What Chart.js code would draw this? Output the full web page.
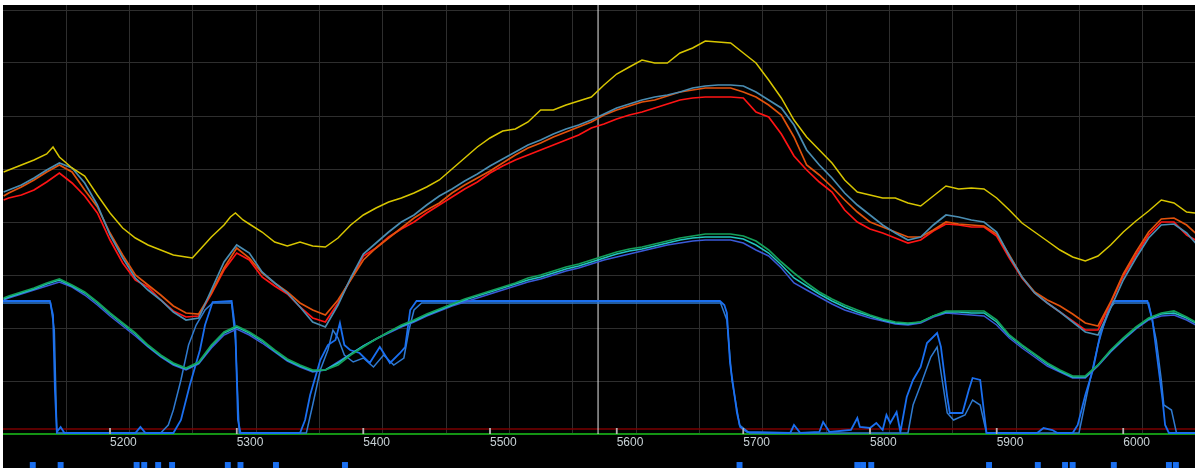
<!DOCTYPE html>
<html>
<head>
<meta charset="utf-8">
<script src="https://cdn.jsdelivr.net/npm/chart.js@4.4.1/dist/chart.umd.min.js"></script>
<style>
  html, body { margin: 0; padding: 0; background: #fff; }
  #wrap { position: absolute; left: 3px; top: 5px; width: 1192px; height: 463px; background: #000; }
</style>
</head>
<body>
<div id="wrap"><canvas id="grafico" width="1192" height="463"></canvas></div>
<script>
// eixo x (posição), ticks e linhas de grade
const xMin = 5115.5;
const xMax = 6056.6;
const tickVals = [5200, 5300, 5400, 5500, 5600, 5700, 5800, 5900, 6000];
const gradeX = [5165.3, 5215.3, 5265.3, 5315.3, 5365.3, 5415.3, 5465.3, 5515.3, 5565.3,
                5615.3, 5665.3, 5715.3, 5765.3, 5815.3, 5865.3, 5915.3, 5965.3, 6015.3];
const gradeY = [0, 53, 106, 159, 212, 265, 318, 371, 424];
const cursorX = 5585.3;

// amostras comuns das curvas vermelhas / verdes
const xs = [5116, 5120, 5130, 5140, 5150, 5160, 5170, 5180, 5190,
  5200, 5210, 5220, 5230, 5240, 5250, 5260, 5270, 5280, 5290,
  5300, 5310, 5320, 5330, 5340, 5350, 5360, 5370, 5380, 5390,
  5400, 5410, 5420, 5430, 5440, 5450, 5460, 5470, 5480, 5490,
  5500, 5510, 5520, 5530, 5540, 5550, 5560, 5570, 5580, 5590,
  5600, 5610, 5620, 5630, 5640, 5650, 5660, 5670, 5680, 5690,
  5700, 5710, 5720, 5730, 5740, 5750, 5760, 5770, 5780, 5790,
  5800, 5810, 5820, 5830, 5840, 5850, 5860, 5870, 5880, 5890,
  5900, 5910, 5920, 5930, 5940, 5950, 5960, 5970, 5980, 5990,
  6000, 6010, 6020, 6030, 6040, 6050, 6057];

const vermelho = [234, 236, 239, 244, 252, 261, 251, 238, 221,
  194, 171, 154, 147, 134, 123, 117, 118, 140, 164,
  181, 174, 157, 148, 140, 127, 116, 112, 131, 155,
  178, 186, 197, 205, 212, 221, 229, 237, 245, 252,
  261, 268, 274, 279, 284, 289, 294, 299, 306, 310,
  315, 319, 322, 326, 330, 334, 336, 337, 337, 337,
  336, 322, 317, 300, 278, 264, 252, 242, 224, 212,
  205, 201, 196, 191, 194, 203, 210, 209, 207, 207,
  198, 176, 156, 141, 131, 122, 113, 104, 104, 131,
  158, 179, 199, 212, 212, 199, 194];

const laranja = [238, 241, 247, 254, 262, 269, 262, 244, 227,
  201, 179, 159, 149, 139, 128, 121, 120, 141, 166,
  186, 176, 161, 151, 142, 131, 124, 119, 134, 154,
  174, 186, 196, 206, 216, 224, 231, 241, 249, 256,
  263, 271, 279, 286, 291, 297, 302, 307, 312, 319,
  324, 328, 332, 334, 338, 342, 344, 346, 346, 346,
  342, 337, 329, 319, 297, 269, 259, 247, 234, 222,
  212, 207, 202, 197, 197, 204, 212, 210, 209, 208,
  200, 179, 157, 142, 134, 128, 120, 111, 108, 132,
  160, 182, 202, 215, 216, 209, 201];

const acoAzul = [242, 244, 249, 256, 264, 271, 266, 251, 229,
  199, 176, 156, 144, 134, 122, 114, 116, 144, 172,
  189, 181, 162, 151, 141, 127, 112, 107, 129, 156,
  180, 191, 202, 212, 219, 229, 238, 245, 253, 260,
  268, 275, 282, 289, 294, 300, 305, 309, 314, 320,
  326, 330, 334, 337, 339, 342, 346, 348, 349, 349,
  348, 342, 334, 326, 309, 284, 269, 256, 241, 229,
  219, 209, 201, 194, 197, 209, 219, 217, 214, 212,
  202, 178, 157, 141, 131, 122, 112, 102, 99, 126,
  154, 176, 196, 209, 210, 201, 191];

const verde = [136, 138, 142, 146, 151, 155, 149, 142, 132,
  121, 111, 101, 89, 79, 71, 66, 72, 89, 102,
  108, 102, 94, 84, 75, 69, 64, 64, 69, 79,
  87, 95, 102, 109, 114, 120, 125, 130, 135, 139,
  143, 147, 151, 156, 159, 163, 167, 170, 174, 178,
  182, 185, 187, 190, 193, 196, 198, 200, 200, 200,
  198, 193, 184, 172, 161, 151, 142, 135, 129, 124,
  119, 115, 112, 111, 112, 118, 123, 123, 123, 123,
  114, 99, 89, 80, 71, 64, 58, 58, 69, 84,
  96, 107, 116, 121, 123, 117, 112];

const ciano = [135, 137, 141, 145, 150, 154, 148, 141, 131,
  120, 110, 100, 88, 78, 70, 65, 71, 88, 101,
  107, 101, 93, 83, 74, 68, 63, 64, 71, 80,
  88, 95, 102, 108, 113, 119, 124, 129, 134, 138,
  142, 146, 150, 154, 157, 161, 165, 168, 172, 176,
  180, 183, 185, 188, 191, 194, 196, 197, 197, 197,
  195, 189, 181, 169, 156, 148, 140, 133, 127, 122,
  118, 114, 111, 110, 112, 118, 122, 122, 121, 121,
  112, 98, 88, 79, 70, 63, 57, 57, 69, 83,
  95, 106, 115, 120, 121, 116, 111];

const azulBaixo = [134, 136, 140, 144, 148, 152, 147, 139, 129,
  118, 108, 98, 87, 77, 69, 64, 70, 86, 99,
  105, 99, 91, 82, 73, 67, 62, 64, 72, 80,
  88, 95, 101, 107, 112, 118, 123, 128, 132, 136,
  140, 144, 148, 152, 155, 159, 163, 166, 170, 174,
  177, 180, 183, 186, 189, 191, 193, 194, 194, 194,
  191, 184, 178, 166, 151, 144, 137, 130, 124, 120,
  116, 113, 110, 109, 111, 117, 121, 120, 119, 118,
  109, 96, 86, 77, 68, 62, 56, 56, 68, 82,
  94, 105, 114, 118, 119, 114, 109];

// curva amarela (mais pontos nos picos)
const amareloX = [5116, 5120, 5130, 5140, 5150, 5155, 5160, 5170, 5180, 5190,
  5200, 5210, 5220, 5230, 5240, 5250, 5260, 5265, 5270, 5280, 5290, 5295, 5299, 5305,
  5310, 5320, 5330, 5340, 5350, 5360, 5370, 5380, 5390,
  5400, 5410, 5420, 5430, 5440, 5450, 5460, 5470, 5480, 5490,
  5500, 5510, 5520, 5530, 5540, 5550, 5560, 5570, 5580, 5590,
  5600, 5610, 5620, 5630, 5640, 5650, 5660, 5670, 5680, 5690,
  5700, 5710, 5720, 5730, 5740, 5750, 5760, 5770, 5780, 5790,
  5800, 5810, 5820, 5830, 5840, 5850, 5860, 5870, 5880, 5890,
  5900, 5910, 5920, 5930, 5940, 5950, 5960, 5970, 5980, 5990,
  6000, 6010, 6020, 6030, 6040, 6050, 6057];
const amareloY = [262, 264, 269, 274, 280, 287, 277, 266, 258, 239,
  221, 206, 196, 189, 184, 179, 177, 176, 183, 197, 209, 217, 221, 214,
  210, 202, 192, 188, 192, 188, 187, 196, 209,
  219, 226, 232, 236, 241, 247, 254, 265, 276, 287,
  296, 303, 305, 312, 324, 324, 329, 333, 337, 349,
  360, 367, 374, 371, 371, 381, 386, 393, 392, 391,
  381, 371, 354, 336, 314, 297, 284, 271, 254, 242,
  239, 236, 236, 231, 228, 238, 248, 245, 246, 245,
  236, 224, 211, 202, 193, 184, 177, 173, 178, 189,
  202, 213, 223, 234, 231, 222, 221];

// sinais azuis (patamar)
const azulAX = [5115.5, 5152.5, 5155, 5156.5, 5158, 5161, 5164, 5220, 5224, 5228, 5250, 5256,
  5263, 5271, 5275, 5281, 5296, 5299, 5301, 5303, 5350, 5354, 5358, 5366, 5372, 5378,
  5381.5, 5385, 5389.5, 5397, 5405, 5413, 5421, 5429, 5433, 5437, 5442, 5681.5, 5685,
  5687, 5689.5, 5695, 5697.5, 5703, 5737, 5740, 5745, 5760, 5763, 5768, 5785, 5790,
  5792, 5800, 5805, 5810, 5813, 5816, 5821, 5824, 5829, 5834, 5840, 5845, 5853, 5856,
  5861, 5863, 5873, 5878, 5881, 5887, 5892, 5932, 5937, 5944, 5948, 5960, 5964, 5970,
  5976, 5982, 5992, 6019, 6023, 6027, 6031, 6033, 6036, 6056.6];
const azulAY = [133, 133, 119, 44, 2, 7, 1, 1, 7, 1, 1, 14,
  49, 84, 109, 132, 133, 104, 14, 1, 1, 14, 39, 74, 89, 94,
  111, 89, 84, 81, 71, 87, 71, 81, 87, 124, 133, 133, 129,
  121, 71, 21, 7, 2, 1, 9, 1, 2, 12, 2, 4, 16,
  7, 6, 11, 4, 19, 11, 22, 2, 37, 54, 67, 91, 101, 87,
  37, 21, 21, 44, 56, 54, 1, 1, 6, 4, 1, 1, 9, 39,
  64, 101, 133, 133, 114, 74, 34, 9, 1, 1];

const azulBX = [5115.5, 5153, 5156, 5158, 5240, 5246, 5250, 5256, 5262, 5268, 5275, 5281,
  5296, 5299, 5302, 5355, 5360, 5366, 5372, 5376, 5380, 5385, 5392, 5400, 5408, 5416,
  5424, 5432, 5436, 5440, 5446, 5682, 5687, 5691, 5697, 5705, 5830, 5834, 5840, 5848,
  5853, 5857, 5861, 5866, 5875, 5881, 5887, 5892, 5965, 5972, 5980, 5988, 5993, 6020,
  6026, 6030, 6032, 6038, 6042, 6056.6];
const azulBY = [131, 131, 104, 1, 1, 9, 24, 54, 89, 109, 124, 131,
  131, 94, 1, 1, 29, 64, 84, 104, 96, 79, 72, 76, 67, 79,
  69, 76, 104, 124, 131, 131, 114, 54, 9, 1, 1, 29, 49, 77,
  87, 54, 21, 14, 19, 34, 29, 1, 1, 44, 89, 124, 131, 131,
  94, 54, 29, 24, 1, 1];

// marcadores de evento abaixo do eixo
const eventosX = [5139, 5161, 5221, 5227, 5238, 5249, 5293, 5303, 5331, 5385.5, 5697,
  5790, 5794.5, 5801, 5894, 5932.5, 5954, 5960, 5992.5, 6036, 6041.5];
const eventoNivel = -31;

function pts(xv, yv) {
  return xv.map((x, i) => ({ x: x, y: yv[i] }));
}

function linha(label, data, cor, largura) {
  return {
    label: label, data: data, borderColor: cor, borderWidth: largura,
    pointRadius: 0, pointHoverRadius: 0, fill: false, tension: 0, xAxisID: 'x', yAxisID: 'y'
  };
}

const base = linha('base', [{ x: xMin, y: 0 }, { x: xMax, y: 0 }], '#149414', 2);
base.clip = false;

const datasets = [
  linha('amarelo', pts(amareloX, amareloY), '#d8c600', 1.5),
  linha('aco', pts(xs, acoAzul), '#4a8db2', 1.7),
  linha('laranja', pts(xs, laranja), '#e2520c', 1.7),
  linha('vermelho', pts(xs, vermelho), '#ff1414', 1.7),
  linha('verde', pts(xs, verde), '#14a05a', 1.7),
  linha('ciano', pts(xs, ciano), '#22c4c0', 1.5),
  linha('azulBaixo', pts(xs, azulBaixo), '#3a5ad8', 1.5),
  linha('azulA', pts(azulAX, azulAY), '#1a6ff0', 1.8),
  linha('azulB', pts(azulBX, azulBY), '#2f7ad0', 1.5),
  {
    label: 'eventos', data: eventosX.map(x => ({ x: x, y: eventoNivel })),
    showLine: false, pointStyle: 'rect', pointRadius: 4.2, pointBorderWidth: 0,
    pointBackgroundColor: '#1a6ff0', clip: false, xAxisID: 'x', yAxisID: 'y'
  },
  {
    label: 'ticks', data: tickVals.map(x => ({ x: x, y: 3 })),
    showLine: false, pointStyle: 'line', pointRotation: 90, pointRadius: 3,
    pointBorderColor: '#b4b4b4', pointBorderWidth: 1.5, clip: false, xAxisID: 'x', yAxisID: 'y'
  },
  linha('cursor', [{ x: cursorX, y: 0 }, { x: cursorX, y: 429 }], '#e6e6e6', 1),
  linha('limite', [{ x: xMin, y: 5 }, { x: xMax, y: 5 }], '#7a0000', 1.5),
  base
];

// marcadores e ticks ficam na borda / fora da área: desenhar com a área do canvas inteiro
const foraDaArea = ['eventos', 'ticks'].map(n => datasets.findIndex(d => d.label === n));
const pluginFora = {
  id: 'foraDaArea',
  afterDatasetsDraw(chart) {
    const area = { left: 0, top: 0, right: chart.width, bottom: chart.height };
    foraDaArea.forEach(i => chart.getDatasetMeta(i).data.forEach(p => p.draw(chart.ctx, area)));
  }
};

new Chart(document.getElementById('grafico'), {
  type: 'line',
  data: { datasets: datasets },
  plugins: [pluginFora],
  options: {
    responsive: false,
    animation: false,
    devicePixelRatio: 1,
    events: [],
    layout: { padding: 0, autoPadding: false },
    plugins: { legend: { display: false }, tooltip: { enabled: false } },
    scales: {
      x: {
        type: 'linear', position: 'bottom', min: xMin, max: xMax,
        afterBuildTicks: s => { s.ticks = tickVals.map(v => ({ value: v })); },
        afterFit: s => { s.height = 34; },
        grid: { display: false, drawTicks: false },
        border: { display: false },
        ticks: {
          align: 'start', color: '#c8d2d6', padding: 1, maxRotation: 0, autoSkip: false,
          font: { family: 'Liberation Sans', size: 12 },
          callback: v => String(v)
        }
      },
      x2: {
        type: 'linear', position: 'top', min: xMin, max: xMax,
        afterBuildTicks: s => { s.ticks = gradeX.map(v => ({ value: v })); },
        afterFit: s => { s.height = 0; },
        grid: { color: '#2e2e2e', drawTicks: false },
        border: { display: false },
        ticks: { display: false }
      },
      y: {
        type: 'linear', min: 0, max: 429,
        afterBuildTicks: s => { s.ticks = gradeY.map(v => ({ value: v })); },
        afterFit: s => { s.width = 0; },
        grid: { color: '#2e2e2e', drawTicks: false },
        border: { display: false },
        ticks: { display: false }
      }
    }
  }
});
</script>
</body>
</html>
